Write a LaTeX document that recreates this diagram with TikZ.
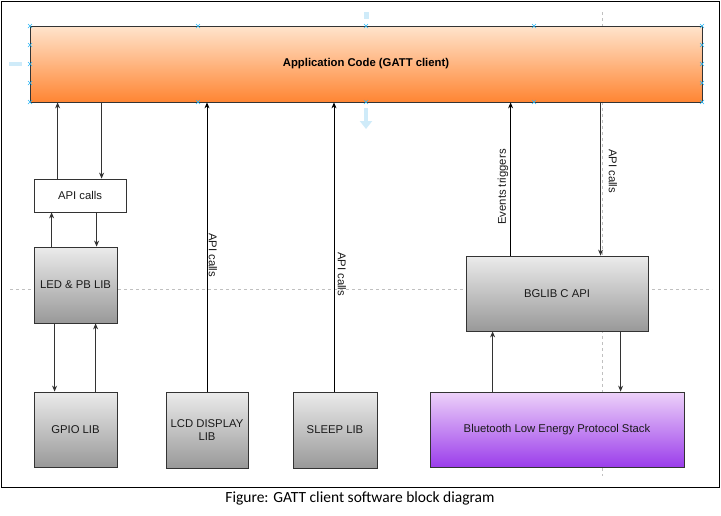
\documentclass[tikz,border=0pt]{standalone}
\usepackage{fontspec}
\setmainfont{Liberation Sans}
\newfontfamily\capfont{Carlito}
\usetikzlibrary{arrows.meta}
\definecolor{bordc}{HTML}{333333}
\definecolor{txtc}{HTML}{1A1A1A}
\definecolor{orgtop}{HTML}{FFE4CC}
\definecolor{orgbot}{HTML}{FF8533}
\definecolor{grytop}{HTML}{EBEBEB}
\definecolor{grybot}{HTML}{999999}
\definecolor{purtop}{HTML}{EDD2F9}
\definecolor{purbot}{HTML}{9B3DEB}
\definecolor{guidec}{HTML}{C0C0C0}
\definecolor{handc}{HTML}{29B6F6}
\definecolor{paleblue}{HTML}{CFEBF9}
\tikzset{
  box/.style={draw=bordc, line width=0.8pt, inner sep=2pt, align=center,
    font=\fontsize{11.3}{13.5}\selectfont, text=txtc},
  graybox/.style={box, top color=grytop, bottom color=grybot},
  arr/.style={draw=bordc, line width=0.8pt, -{Stealth[length=6pt,width=5pt]}},
  lbl/.style={font=\fontsize{11.3}{13.5}\selectfont, text=txtc, inner sep=0pt},
  guide/.style={draw=guidec, line width=0.6pt, dash pattern=on 3pt off 3pt},
  handle/.style={draw=handc, line width=0.6pt},
}
\begin{document}
\begin{tikzpicture}[x=1pt,y=-1pt]
\useasboundingbox (0,0) rectangle (721,515);
\fill[white] (0,0) rectangle (721,515);
% guides
\draw[guide] (10,289) -- (712,289);
\draw[guide] (602,12) -- (602,476);
% boxes
\node[box, minimum width=672pt, minimum height=76pt, top color=orgtop, bottom color=orgbot,
  font=\fontsize{11.3}{13.5}\selectfont\bfseries, text=black] (app) at (366,64) {Application Code (GATT client)};
\node[box, fill=white, minimum width=92pt, minimum height=33pt] (api) at (80,195.5) {API calls};
\node[graybox, minimum width=83pt, minimum height=76pt] (led) at (75.5,285) {LED \& PB LIB};
\node[graybox, minimum width=83pt, minimum height=75pt] (gpio) at (75.5,429.5) {GPIO LIB};
\node[graybox, minimum width=82pt, minimum height=76pt] (lcd) at (207,430) {LCD DISPLAY\\LIB};
\node[graybox, minimum width=84pt, minimum height=76pt] (sleep) at (335,430) {SLEEP LIB};
\node[graybox, minimum width=182pt, minimum height=75pt] (bglib) at (557,293.5) {BGLIB C API};
\node[box, minimum width=254pt, minimum height=75pt, top color=purtop, bottom color=purbot] (ble) at (557,429.5) {Bluetooth Low Energy Protocol Stack};
% connectors
\draw[arr] ([xshift=24pt]api.north west) -- ([xshift=24pt]api.north west |- app.south);
\draw[arr] ([xshift=68pt]api.north west |- app.south) -- ([xshift=68pt]api.north west);
\draw[arr] ([xshift=18pt]led.north west) -- ([xshift=18pt]led.north west |- api.south);
\draw[arr] ([xshift=63pt]led.north west |- api.south) -- ([xshift=63pt]led.north west);
\draw[arr] ([xshift=21pt]gpio.north west |- led.south) -- ([xshift=21pt]gpio.north west);
\draw[arr] ([xshift=62pt]gpio.north west) -- ([xshift=62pt]gpio.north west |- led.south);
\draw[arr, draw=black] (lcd.north) -- (lcd.north |- app.south);
\draw[arr, draw=black] ([xshift=-1pt]sleep.north) -- ([xshift=-1pt]sleep.north |- app.south);
\draw[arr, draw=black] ([xshift=45pt]bglib.north west) -- ([xshift=45pt]bglib.north west |- app.south);
\draw[arr] ([xshift=135pt]bglib.north west |- app.south) -- ([xshift=135pt]bglib.north west);
\draw[arr] ([xshift=63pt]ble.north west) -- ([xshift=63pt]ble.north west |- bglib.south);
\draw[arr] ([xshift=191pt]ble.north west |- bglib.south) -- ([xshift=191pt]ble.north west);
% labels
\node[lbl, rotate=-90] (l1) at (213,255) {API calls};
\node[lbl, rotate=-90] (l2) at (342,274) {API calls};
\node[lbl, rotate=90] (l3) at (503,187) {Events triggers};
\node[lbl, rotate=-90] (l4) at (613,171) {API calls};
% selection handles
\foreach \hx in {30,198,366,534,702} {
  \foreach \hy in {26,102} {
    \draw[handle] (\hx-2,\hy-2) -- (\hx+2,\hy+2) (\hx-2,\hy+2) -- (\hx+2,\hy-2);
  }
}
\foreach \hx in {30,702} {
  \foreach \hy in {45,64,83} {
    \draw[handle] (\hx-2,\hy-2) -- (\hx+2,\hy+2) (\hx-2,\hy+2) -- (\hx+2,\hy-2);
  }
}
\fill[paleblue] (363.5,12) rectangle (368.5,19);
\fill[paleblue] (9,62) rectangle (22,66);
\draw[paleblue, line width=4pt, -{Triangle[length=8pt,width=12pt]}] (366,108) -- (366,129);
% frame and caption
\draw[black, line width=0.8pt] (1.5,1.5) rectangle (719.5,487);
\node[inner sep=0pt, font=\capfont\fontsize{15.5}{18}\selectfont] (cap) at (360,498) {Figure: GATT client software block diagram};
\end{tikzpicture}
\end{document}
